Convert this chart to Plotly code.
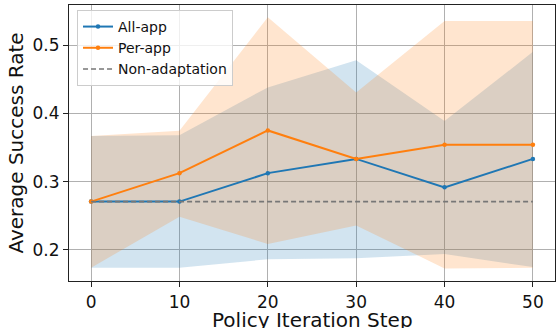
import plotly.graph_objects as go

steps = [0, 10, 20, 30, 40, 50]
all_app = [0.2708, 0.2708, 0.3125, 0.3333, 0.2917, 0.3333]
all_app_upper = [0.367, 0.368, 0.438, 0.4776, 0.3887, 0.490]
all_app_lower = [0.174, 0.174, 0.1864, 0.1878, 0.194, 0.175]
per_app = [0.2708, 0.3125, 0.375, 0.3333, 0.3542, 0.3542]
per_app_upper = [0.367, 0.3745, 0.5405, 0.4307, 0.5351, 0.5351]
per_app_lower = [0.174, 0.2488, 0.2088, 0.236, 0.173, 0.174]
non_adapt = [0.2708] * 6

BLUE = "#1f77b4"
ORANGE = "#ff7f0e"
FONT = "DejaVu Sans"

fig = go.Figure()

for lower, upper, fc in [
    (all_app_lower, all_app_upper, "rgba(31,119,180,0.2)"),
    (per_app_lower, per_app_upper, "rgba(255,127,14,0.2)"),
]:
    fig.add_trace(go.Scatter(x=steps, y=lower, mode="lines", line=dict(width=0),
                             showlegend=False, hoverinfo="skip"))
    fig.add_trace(go.Scatter(x=steps, y=upper, mode="lines", line=dict(width=0),
                             fill="tonexty", fillcolor=fc, showlegend=False,
                             hoverinfo="skip"))

fig.add_trace(go.Scatter(x=steps, y=all_app, mode="lines+markers", name="All-app",
                         line=dict(color=BLUE, width=2), marker=dict(size=4.5, color=BLUE)))
fig.add_trace(go.Scatter(x=steps, y=per_app, mode="lines+markers", name="Per-app",
                         line=dict(color=ORANGE, width=2), marker=dict(size=4.5, color=ORANGE)))
fig.add_trace(go.Scatter(x=steps, y=non_adapt, mode="lines", name="Non-adaptation",
                         line=dict(color="#777777", width=1.6, dash="5px,3px")))

axis_common = dict(
    showgrid=True, gridcolor="#b0b0b0", gridwidth=1,
    showline=True, linecolor="#222222", linewidth=1.2, mirror=True,
    ticks="outside", ticklen=5, tickcolor="#222222",
    tickfont=dict(family=FONT, size=17, color="#111111"),
    zeroline=False,
)

fig.update_layout(
    width=558, height=328,
    margin=dict(l=69, r=3, t=5, b=47),
    paper_bgcolor="white", plot_bgcolor="white",
    font=dict(family=FONT, color="#111111"),
    xaxis=dict(range=[-2.5, 52.5], tickvals=steps, ticktext=[str(s) for s in steps],
               automargin=False, **axis_common),
    yaxis=dict(range=[0.1546, 0.5586], tickvals=[0.2, 0.3, 0.4, 0.5],
               ticktext=["0.2", "0.3", "0.4", "0.5"],
               title=dict(text="Average Success Rate", font=dict(family=FONT, size=20),
                          standoff=3),
               automargin=False, **axis_common),
    legend=dict(x=0.0165, y=0.982, xanchor="left", yanchor="top",
                bgcolor="rgba(255,255,255,0.8)", bordercolor="#cccccc", borderwidth=1,
                font=dict(family=FONT, size=14), itemwidth=30, tracegroupgap=0,
                traceorder="normal"),
    showlegend=True,
    annotations=[dict(text="Policy Iteration Step", xref="paper", yref="paper",
                      x=0.5, y=-0.09, xanchor="center", yanchor="top",
                      showarrow=False, font=dict(family=FONT, size=20, color="#111111"))],
)

fig.write_html("out.html", config={"displayModeBar": False},
               post_script="document.body.style.margin='0';document.body.style.padding='0';")
